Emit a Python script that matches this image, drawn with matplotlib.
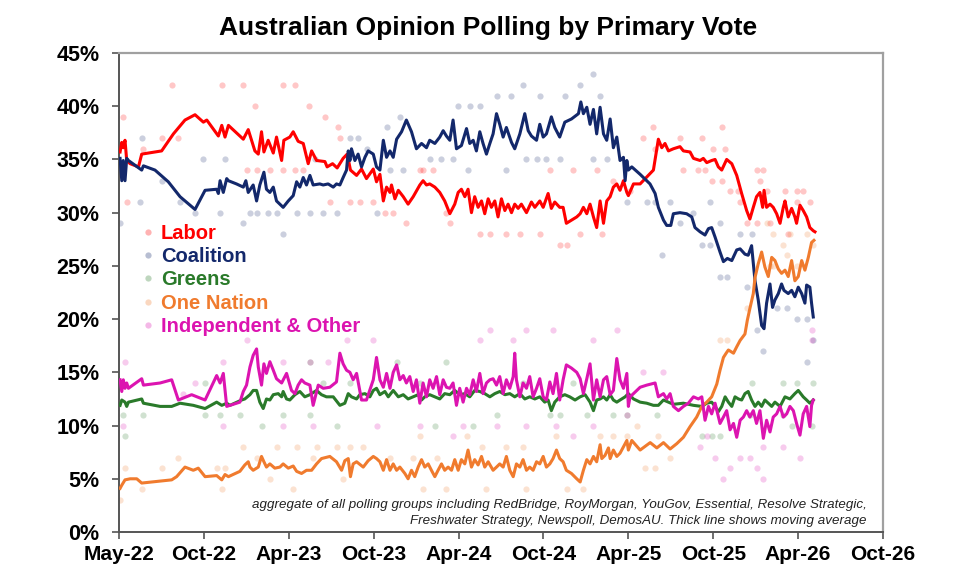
import matplotlib
matplotlib.use('Agg')
import matplotlib.pyplot as plt
from matplotlib.lines import Line2D
from datetime import datetime, timedelta

plt.rcParams['font.family'] = ['Liberation Sans', 'DejaVu Sans']

# ---------------- data (x = decimal year, y = primary vote %) ----------------
series_names = ['Labor', 'Coalition', 'Greens', 'One Nation', 'Independent & Other']
line_colors = ['#FF0000', '#13286B', '#2A7A2A', '#F07B2E', '#DC14B0']

tick_dates = ['2022-05-01', '2022-10-30', '2023-04-30', '2023-10-29', '2024-04-28',
              '2024-10-27', '2025-04-27', '2025-10-26', '2026-04-26', '2026-10-25']
tick_labels = ['May-22', 'Oct-22', 'Apr-23', 'Oct-23', 'Apr-24',
               'Oct-24', 'Apr-25', 'Oct-25', 'Apr-26', 'Oct-26']
y_ticks = [0, 5, 10, 15, 20, 25, 30, 35, 40, 45]
y_labels = ['0%', '5%', '10%', '15%', '20%', '25%', '30%', '35%', '40%', '45%']

labor_avg = [
    (2022.335, 35.7), (2022.345, 36.6), (2022.354, 36.1), (2022.364, 36.8), (2022.374, 34.9),
    (2022.394, 34.6), (2022.443, 34.3), (2022.462, 35.5), (2022.579, 35.8), (2022.648, 37.4),
    (2022.716, 38.7), (2022.775, 39.2), (2022.824, 38.5), (2022.844, 38.7), (2022.912, 37.2),
    (2022.932, 38.2), (2022.951, 37.1), (2022.971, 38.2), (2023.059, 36.9), (2023.088, 37.8),
    (2023.127, 35.8), (2023.147, 35.5), (2023.166, 37.6), (2023.180, 35.7), (2023.205, 36.8),
    (2023.235, 35.6), (2023.254, 37.1), (2023.284, 34.9), (2023.297, 36.8), (2023.332, 37.1),
    (2023.352, 37.6), (2023.381, 36.7), (2023.411, 36.5), (2023.440, 34.6), (2023.460, 35.8),
    (2023.489, 34.9), (2023.538, 34.8), (2023.551, 34.3), (2023.583, 34.6), (2023.610, 34.2),
    (2023.645, 35.1), (2023.669, 35.5), (2023.688, 34.0), (2023.724, 33.5), (2023.753, 34.1),
    (2023.782, 33.2), (2023.822, 34.1), (2023.841, 32.9), (2023.861, 33.6), (2023.881, 31.1),
    (2023.900, 32.4), (2023.920, 31.9), (2023.929, 32.6), (2023.949, 31.3), (2023.969, 32.1),
    (2023.998, 31.5), (2024.027, 30.8), (2024.057, 31.5), (2024.096, 32.6), (2024.115, 33.0),
    (2024.135, 32.6), (2024.154, 32.7), (2024.184, 32.4), (2024.213, 31.9), (2024.242, 31.1),
    (2024.272, 29.9), (2024.301, 30.8), (2024.321, 31.9), (2024.340, 32.2), (2024.360, 31.5),
    (2024.379, 32.2), (2024.399, 30.0), (2024.418, 31.5), (2024.438, 30.5), (2024.458, 31.1),
    (2024.477, 29.9), (2024.497, 31.3), (2024.516, 30.5), (2024.536, 31.1), (2024.555, 29.6),
    (2024.575, 31.3), (2024.595, 30.2), (2024.614, 30.8), (2024.634, 30.0), (2024.653, 30.8),
    (2024.673, 30.4), (2024.692, 30.8), (2024.722, 30.0), (2024.751, 31.0), (2024.771, 30.5),
    (2024.800, 31.1), (2024.820, 30.5), (2024.849, 31.8), (2024.868, 30.4), (2024.888, 31.0),
    (2024.917, 30.5), (2024.937, 30.5), (2024.956, 29.0), (2024.986, 29.3), (2025.015, 29.6),
    (2025.035, 29.9), (2025.054, 30.5), (2025.074, 29.9), (2025.093, 30.8), (2025.113, 29.6),
    (2025.132, 28.6), (2025.152, 31.1), (2025.172, 29.0), (2025.191, 31.1), (2025.211, 31.5),
    (2025.230, 32.4), (2025.250, 32.7), (2025.269, 32.1), (2025.289, 33.0), (2025.309, 31.9),
    (2025.318, 31.6), (2025.348, 32.7), (2025.387, 32.7), (2025.465, 34.0), (2025.494, 36.9),
    (2025.514, 36.1), (2025.533, 36.5), (2025.553, 35.8), (2025.582, 36.0), (2025.621, 36.2),
    (2025.641, 35.8), (2025.680, 35.7), (2025.700, 35.1), (2025.739, 34.9), (2025.758, 35.1),
    (2025.778, 34.7), (2025.807, 34.9), (2025.827, 35.0), (2025.846, 34.3), (2025.866, 34.0),
    (2025.895, 35.0), (2025.925, 34.6), (2025.954, 33.5), (2025.983, 31.8), (2026.013, 30.2),
    (2026.032, 29.4), (2026.052, 30.5), (2026.071, 31.5), (2026.091, 31.9), (2026.107, 30.5),
    (2026.115, 32.1), (2026.130, 30.5), (2026.150, 30.8), (2026.169, 30.5), (2026.189, 29.9),
    (2026.209, 29.0), (2026.228, 30.5), (2026.238, 31.1), (2026.257, 29.6), (2026.277, 30.4),
    (2026.296, 29.6), (2026.306, 29.0), (2026.326, 30.7), (2026.345, 30.2), (2026.365, 29.6),
    (2026.384, 28.6), (2026.404, 28.3), (2026.414, 28.2),
]

coalition_avg = [
    (2022.335, 35.1), (2022.345, 33.0), (2022.354, 34.9), (2022.364, 33.0), (2022.374, 35.1),
    (2022.384, 34.9), (2022.462, 34.0), (2022.472, 34.4), (2022.540, 34.0), (2022.618, 32.9),
    (2022.687, 31.5), (2022.775, 30.3), (2022.834, 32.1), (2022.902, 32.2), (2022.912, 31.8),
    (2022.922, 33.0), (2022.941, 31.9), (2022.961, 33.2), (2022.971, 33.0), (2023.019, 32.7),
    (2023.059, 32.4), (2023.074, 33.0), (2023.088, 31.9), (2023.117, 32.6), (2023.137, 31.1),
    (2023.156, 32.6), (2023.180, 33.8), (2023.195, 32.2), (2023.215, 31.9), (2023.235, 32.4),
    (2023.254, 31.1), (2023.293, 30.5), (2023.323, 31.1), (2023.352, 31.6), (2023.372, 32.9),
    (2023.391, 32.4), (2023.411, 33.3), (2023.430, 32.6), (2023.450, 33.5), (2023.469, 32.6),
    (2023.508, 32.7), (2023.528, 32.6), (2023.557, 32.7), (2023.587, 32.4), (2023.606, 32.7),
    (2023.626, 32.6), (2023.645, 33.3), (2023.665, 34.0), (2023.675, 35.8), (2023.685, 34.9),
    (2023.694, 36.0), (2023.714, 34.9), (2023.733, 35.5), (2023.753, 34.3), (2023.773, 35.2),
    (2023.792, 35.8), (2023.822, 35.5), (2023.841, 34.3), (2023.861, 34.0), (2023.881, 36.8),
    (2023.900, 35.2), (2023.920, 35.8), (2023.939, 35.2), (2023.959, 36.9), (2023.988, 37.6),
    (2024.017, 38.7), (2024.047, 37.6), (2024.076, 36.0), (2024.106, 36.5), (2024.135, 36.1),
    (2024.154, 36.8), (2024.184, 36.5), (2024.213, 37.1), (2024.233, 37.7), (2024.252, 37.2),
    (2024.272, 36.8), (2024.291, 38.7), (2024.311, 36.0), (2024.340, 36.3), (2024.370, 37.9),
    (2024.389, 36.5), (2024.409, 36.8), (2024.428, 35.8), (2024.448, 37.6), (2024.467, 36.5),
    (2024.487, 35.5), (2024.507, 36.5), (2024.526, 37.4), (2024.546, 39.3), (2024.565, 38.3),
    (2024.585, 37.1), (2024.604, 38.0), (2024.634, 36.6), (2024.653, 36.0), (2024.683, 37.4),
    (2024.712, 39.3), (2024.732, 37.7), (2024.751, 37.2), (2024.781, 36.8), (2024.800, 38.3),
    (2024.820, 37.1), (2024.839, 37.4), (2024.868, 39.0), (2024.888, 38.0), (2024.917, 37.1),
    (2024.947, 38.5), (2024.986, 38.8), (2025.025, 39.3), (2025.039, 40.4), (2025.054, 39.3),
    (2025.074, 39.9), (2025.093, 38.3), (2025.113, 39.7), (2025.132, 37.4), (2025.152, 39.9),
    (2025.172, 37.4), (2025.191, 36.8), (2025.211, 38.8), (2025.230, 36.1), (2025.250, 37.1),
    (2025.269, 34.9), (2025.289, 35.2), (2025.299, 33.0), (2025.309, 34.9), (2025.318, 34.0),
    (2025.338, 34.3), (2025.387, 33.6), (2025.445, 32.7), (2025.475, 31.8), (2025.494, 30.5),
    (2025.524, 29.3), (2025.543, 28.8), (2025.567, 28.8), (2025.582, 29.9), (2025.621, 30.0),
    (2025.660, 29.9), (2025.690, 29.6), (2025.709, 28.6), (2025.739, 28.2), (2025.768, 27.9),
    (2025.788, 28.5), (2025.807, 28.6), (2025.827, 27.7), (2025.856, 26.3), (2025.876, 25.4),
    (2025.899, 25.7), (2025.925, 25.5), (2025.954, 26.5), (2025.974, 26.6), (2026.003, 26.1),
    (2026.022, 26.0), (2026.042, 26.9), (2026.062, 23.6), (2026.081, 21.8), (2026.101, 19.4),
    (2026.115, 19.1), (2026.130, 21.5), (2026.150, 23.3), (2026.165, 21.1), (2026.179, 21.8),
    (2026.199, 22.4), (2026.218, 23.3), (2026.232, 22.7), (2026.257, 22.4), (2026.277, 22.7),
    (2026.296, 22.1), (2026.316, 23.0), (2026.336, 22.4), (2026.355, 21.5), (2026.365, 23.2),
    (2026.384, 23.0), (2026.394, 21.5), (2026.404, 20.2),
]

greens_avg = [
    (2022.335, 11.9), (2022.345, 12.4), (2022.364, 12.2), (2022.374, 11.8), (2022.384, 12.2),
    (2022.462, 12.5), (2022.472, 12.1), (2022.570, 11.8), (2022.638, 11.8), (2022.687, 12.1),
    (2022.765, 11.9), (2022.834, 11.6), (2022.902, 12.2), (2022.932, 11.9), (2022.961, 12.1),
    (2022.980, 11.9), (2023.049, 12.4), (2023.068, 12.5), (2023.098, 12.9), (2023.117, 13.3),
    (2023.137, 13.3), (2023.156, 12.2), (2023.176, 11.6), (2023.195, 12.5), (2023.215, 12.4),
    (2023.235, 12.9), (2023.264, 13.0), (2023.284, 12.7), (2023.293, 13.2), (2023.313, 12.5),
    (2023.332, 12.4), (2023.362, 12.9), (2023.391, 13.2), (2023.420, 12.7), (2023.450, 12.9),
    (2023.489, 13.3), (2023.518, 12.9), (2023.547, 12.7), (2023.587, 12.7), (2023.626, 11.9),
    (2023.655, 12.1), (2023.675, 13.0), (2023.694, 12.7), (2023.724, 12.5), (2023.743, 12.9),
    (2023.773, 13.0), (2023.802, 12.7), (2023.822, 13.3), (2023.841, 13.5), (2023.861, 12.9),
    (2023.890, 13.2), (2023.910, 12.7), (2023.939, 13.3), (2023.969, 12.7), (2023.998, 12.9),
    (2024.027, 12.5), (2024.057, 12.7), (2024.086, 12.9), (2024.106, 12.4), (2024.125, 12.7),
    (2024.154, 12.9), (2024.184, 12.7), (2024.213, 12.5), (2024.242, 13.0), (2024.272, 12.9),
    (2024.301, 13.3), (2024.330, 12.9), (2024.360, 13.0), (2024.389, 12.7), (2024.418, 13.3),
    (2024.448, 13.2), (2024.477, 13.0), (2024.507, 12.7), (2024.536, 13.0), (2024.565, 13.2),
    (2024.595, 12.9), (2024.624, 13.0), (2024.653, 12.7), (2024.683, 13.0), (2024.712, 12.5),
    (2024.741, 12.7), (2024.771, 12.5), (2024.800, 12.7), (2024.829, 12.2), (2024.849, 12.4),
    (2024.868, 11.4), (2024.888, 12.2), (2024.917, 12.7), (2024.947, 12.9), (2024.976, 12.7),
    (2025.005, 12.4), (2025.035, 12.7), (2025.064, 12.9), (2025.093, 12.2), (2025.113, 11.4),
    (2025.132, 12.4), (2025.152, 12.5), (2025.172, 12.7), (2025.191, 12.4), (2025.211, 12.9),
    (2025.230, 12.4), (2025.250, 12.2), (2025.269, 12.4), (2025.299, 12.7), (2025.318, 13.0),
    (2025.348, 12.5), (2025.387, 12.2), (2025.426, 12.1), (2025.465, 11.9), (2025.494, 11.9),
    (2025.524, 12.4), (2025.582, 12.0), (2025.641, 12.1), (2025.700, 11.9), (2025.749, 11.8),
    (2025.778, 12.1), (2025.807, 12.2), (2025.827, 11.8), (2025.846, 11.3), (2025.866, 11.8),
    (2025.886, 12.7), (2025.905, 12.2), (2025.925, 11.8), (2025.944, 12.7), (2025.964, 12.5),
    (2025.983, 12.4), (2026.003, 13.0), (2026.022, 13.2), (2026.042, 12.4), (2026.062, 11.8),
    (2026.081, 12.2), (2026.101, 11.8), (2026.120, 12.4), (2026.140, 12.1), (2026.160, 11.8),
    (2026.179, 12.2), (2026.209, 11.8), (2026.238, 12.7), (2026.267, 12.5), (2026.296, 13.0),
    (2026.316, 13.3), (2026.345, 12.7), (2026.365, 12.4), (2026.384, 12.1), (2026.404, 12.4),
]

one_nation_avg = [
    (2022.335, 4.1), (2022.345, 4.4), (2022.364, 4.9), (2022.394, 5.0), (2022.433, 5.0),
    (2022.462, 4.6), (2022.638, 4.9), (2022.667, 5.2), (2022.716, 6.1), (2022.765, 5.8),
    (2022.794, 6.0), (2022.834, 5.2), (2022.902, 5.3), (2022.932, 4.9), (2022.951, 5.4),
    (2022.971, 5.2), (2023.039, 5.7), (2023.068, 6.3), (2023.088, 6.6), (2023.098, 6.1),
    (2023.117, 5.8), (2023.147, 6.1), (2023.166, 7.1), (2023.180, 6.6), (2023.195, 6.1),
    (2023.215, 6.4), (2023.244, 6.0), (2023.274, 6.1), (2023.293, 6.4), (2023.323, 6.0),
    (2023.352, 6.2), (2023.372, 5.7), (2023.401, 5.5), (2023.430, 5.8), (2023.460, 5.8),
    (2023.489, 6.4), (2023.518, 6.9), (2023.567, 7.1), (2023.606, 6.6), (2023.636, 5.8),
    (2023.655, 6.7), (2023.675, 6.9), (2023.688, 5.2), (2023.704, 6.4), (2023.724, 6.6),
    (2023.763, 6.1), (2023.792, 6.7), (2023.822, 7.1), (2023.841, 6.9), (2023.861, 6.6),
    (2023.881, 5.8), (2023.900, 6.8), (2023.920, 5.8), (2023.939, 6.4), (2023.959, 5.8),
    (2023.978, 6.1), (2024.008, 5.5), (2024.027, 5.0), (2024.047, 5.8), (2024.066, 5.2),
    (2024.086, 6.1), (2024.106, 6.8), (2024.125, 6.1), (2024.145, 6.4), (2024.164, 5.8),
    (2024.184, 5.2), (2024.203, 5.8), (2024.223, 6.4), (2024.242, 5.8), (2024.262, 6.1),
    (2024.282, 5.8), (2024.301, 6.8), (2024.321, 5.8), (2024.340, 6.8), (2024.360, 6.4),
    (2024.379, 7.7), (2024.399, 6.1), (2024.418, 6.8), (2024.438, 6.3), (2024.458, 7.1),
    (2024.477, 6.1), (2024.497, 6.6), (2024.526, 5.8), (2024.546, 6.1), (2024.565, 6.4),
    (2024.585, 6.1), (2024.604, 7.1), (2024.624, 5.8), (2024.644, 5.2), (2024.663, 6.4),
    (2024.683, 6.1), (2024.702, 6.8), (2024.722, 5.8), (2024.741, 6.1), (2024.761, 5.8),
    (2024.781, 6.6), (2024.800, 6.4), (2024.820, 7.1), (2024.839, 6.1), (2024.859, 6.4),
    (2024.878, 6.9), (2024.898, 7.7), (2024.917, 6.9), (2024.937, 6.6), (2024.956, 5.8),
    (2024.986, 5.5), (2025.015, 5.0), (2025.035, 4.7), (2025.054, 5.8), (2025.074, 6.8),
    (2025.093, 6.4), (2025.113, 7.1), (2025.132, 6.6), (2025.152, 8.2), (2025.162, 6.9),
    (2025.181, 7.2), (2025.201, 7.9), (2025.211, 6.9), (2025.230, 7.7), (2025.250, 7.1),
    (2025.269, 7.4), (2025.289, 8.0), (2025.309, 8.6), (2025.318, 7.7), (2025.338, 8.6),
    (2025.387, 7.7), (2025.446, 8.4), (2025.485, 7.9), (2025.524, 8.4), (2025.563, 7.8),
    (2025.602, 8.3), (2025.641, 8.9), (2025.680, 9.9), (2025.719, 10.8), (2025.749, 11.8),
    (2025.778, 12.2), (2025.807, 12.7), (2025.837, 13.9), (2025.856, 15.2), (2025.876, 16.4),
    (2025.892, 16.8), (2025.905, 17.1), (2025.935, 16.8), (2025.954, 17.4), (2025.974, 18.0),
    (2026.003, 18.6), (2026.017, 19.9), (2026.032, 21.0), (2026.052, 22.4), (2026.062, 23.9),
    (2026.081, 25.2), (2026.101, 26.3), (2026.120, 24.9), (2026.140, 24.0), (2026.160, 25.8),
    (2026.179, 25.5), (2026.199, 24.7), (2026.218, 24.3), (2026.238, 24.6), (2026.257, 24.0),
    (2026.277, 25.5), (2026.296, 23.6), (2026.316, 24.0), (2026.336, 25.5), (2026.355, 24.6),
    (2026.375, 25.8), (2026.394, 27.2), (2026.408, 27.4),
]

independent_avg = [
    (2022.335, 14.3), (2022.345, 13.2), (2022.354, 14.3), (2022.364, 13.5), (2022.374, 14.0),
    (2022.384, 13.5), (2022.462, 14.4), (2022.472, 13.8), (2022.570, 14.0), (2022.638, 14.3),
    (2022.677, 12.4), (2022.755, 12.9), (2022.834, 12.4), (2022.902, 14.7), (2022.922, 14.0),
    (2022.941, 14.9), (2022.961, 11.8), (2023.039, 12.2), (2023.059, 13.2), (2023.078, 13.8),
    (2023.098, 15.5), (2023.117, 16.6), (2023.137, 17.2), (2023.147, 15.5), (2023.166, 13.8),
    (2023.180, 15.8), (2023.195, 14.9), (2023.215, 16.0), (2023.235, 15.2), (2023.254, 14.4),
    (2023.284, 14.0), (2023.313, 14.9), (2023.342, 13.3), (2023.362, 13.0), (2023.381, 13.8),
    (2023.401, 14.3), (2023.420, 14.0), (2023.450, 13.8), (2023.469, 11.9), (2023.499, 13.8),
    (2023.528, 13.5), (2023.567, 13.6), (2023.606, 14.1), (2023.626, 16.8), (2023.645, 15.8),
    (2023.665, 15.2), (2023.685, 15.0), (2023.704, 14.3), (2023.724, 14.9), (2023.753, 12.4),
    (2023.782, 12.4), (2023.822, 14.3), (2023.841, 16.4), (2023.861, 14.3), (2023.881, 13.6),
    (2023.900, 14.9), (2023.920, 13.5), (2023.939, 15.0), (2023.959, 15.7), (2023.978, 14.3),
    (2023.998, 14.7), (2024.017, 14.0), (2024.037, 14.6), (2024.057, 13.2), (2024.076, 14.3),
    (2024.096, 12.1), (2024.115, 14.0), (2024.135, 12.7), (2024.154, 14.3), (2024.174, 13.5),
    (2024.194, 14.6), (2024.213, 12.9), (2024.233, 14.3), (2024.252, 13.6), (2024.272, 13.5),
    (2024.291, 14.0), (2024.311, 11.9), (2024.330, 13.5), (2024.350, 12.2), (2024.370, 13.5),
    (2024.389, 12.9), (2024.409, 14.3), (2024.428, 13.2), (2024.448, 14.9), (2024.467, 13.0),
    (2024.487, 14.0), (2024.507, 14.3), (2024.526, 14.4), (2024.546, 13.8), (2024.565, 14.6),
    (2024.585, 13.0), (2024.604, 14.3), (2024.624, 13.5), (2024.644, 14.6), (2024.653, 16.8),
    (2024.663, 14.3), (2024.683, 12.7), (2024.702, 14.0), (2024.722, 13.5), (2024.741, 14.6),
    (2024.761, 12.7), (2024.781, 13.5), (2024.800, 14.4), (2024.820, 12.7), (2024.839, 12.4),
    (2024.859, 14.1), (2024.878, 13.0), (2024.898, 14.9), (2024.917, 12.4), (2024.937, 14.3),
    (2024.956, 15.7), (2024.986, 15.4), (2025.015, 15.0), (2025.035, 14.4), (2025.054, 13.0),
    (2025.074, 14.4), (2025.093, 15.8), (2025.113, 12.4), (2025.132, 14.3), (2025.152, 12.7),
    (2025.172, 14.3), (2025.191, 14.6), (2025.211, 12.9), (2025.230, 13.3), (2025.250, 16.3),
    (2025.269, 14.3), (2025.289, 13.5), (2025.309, 14.9), (2025.318, 11.8), (2025.328, 12.7),
    (2025.348, 13.0), (2025.387, 13.6), (2025.426, 13.8), (2025.475, 14.0), (2025.494, 12.7),
    (2025.524, 13.0), (2025.543, 12.5), (2025.563, 13.0), (2025.582, 11.8), (2025.612, 11.4),
    (2025.641, 11.8), (2025.670, 12.1), (2025.700, 12.7), (2025.729, 12.5), (2025.749, 12.7),
    (2025.768, 10.5), (2025.788, 11.8), (2025.807, 11.1), (2025.827, 12.1), (2025.856, 10.2),
    (2025.876, 10.8), (2025.895, 11.4), (2025.915, 9.6), (2025.935, 10.2), (2025.954, 8.9),
    (2025.974, 10.5), (2025.993, 10.8), (2026.013, 11.4), (2026.032, 10.8), (2026.052, 11.4),
    (2026.071, 10.2), (2026.091, 11.4), (2026.111, 8.8), (2026.130, 10.5), (2026.150, 9.4),
    (2026.169, 10.8), (2026.189, 11.1), (2026.209, 11.8), (2026.228, 10.8), (2026.248, 11.1),
    (2026.267, 11.8), (2026.287, 11.4), (2026.306, 10.2), (2026.326, 9.1), (2026.345, 11.1),
    (2026.365, 11.8), (2026.384, 9.9), (2026.394, 11.9), (2026.404, 12.4),
]

# individual polls (faint dots)
labor_polls = [
    (2022.354, 39), (2022.638, 42), (2022.932, 42), (2023.059, 42), (2023.290, 42), (2023.364, 42),
    (2023.127, 40), (2023.446, 40), (2023.538, 39), (2022.677, 37), (2022.580, 37), (2022.472, 36),
    (2023.616, 38), (2023.626, 37), (2022.374, 31), (2023.078, 34), (2023.137, 34), (2023.215, 34),
    (2023.293, 34), (2023.362, 34), (2023.411, 34), (2023.567, 31), (2023.685, 31), (2023.743, 31),
    (2023.822, 31), (2023.880, 32), (2023.890, 30), (2023.939, 30), (2024.017, 29), (2024.096, 34),
    (2024.115, 34), (2024.174, 34), (2024.252, 30), (2024.272, 29), (2024.448, 28), (2024.507, 28),
    (2024.604, 28), (2024.682, 28), (2024.800, 28), (2024.917, 27), (2024.957, 27), (2025.035, 28),
    (2025.162, 28), (2024.859, 34), (2024.995, 34), (2025.133, 34), (2025.230, 33), (2025.328, 32),
    (2025.406, 37), (2025.475, 36), (2025.465, 38), (2025.621, 37), (2025.749, 37), (2025.866, 38),
    (2025.817, 36), (2025.886, 36), (2025.641, 34), (2025.729, 34), (2025.768, 34), (2025.807, 33),
    (2025.866, 33), (2026.071, 34), (2026.110, 34), (2026.091, 33), (2025.915, 32), (2025.964, 32),
    (2026.130, 32), (2026.238, 32), (2026.306, 32), (2026.345, 32), (2026.384, 31), (2026.306, 31),
    (2025.974, 31), (2026.013, 29), (2026.150, 29), (2026.257, 28), (2026.071, 29),
]

coalition_polls = [
    (2022.462, 37), (2022.335, 29), (2022.452, 31), (2022.580, 33), (2022.687, 31), (2022.775, 30),
    (2022.824, 35), (2022.922, 30), (2022.951, 35), (2023.059, 29), (2023.098, 30), (2023.137, 30),
    (2023.205, 30), (2023.255, 30), (2023.290, 28), (2023.372, 30), (2023.450, 30), (2023.528, 30),
    (2023.607, 30), (2023.479, 35), (2023.685, 37), (2023.733, 37), (2023.783, 36), (2023.841, 30),
    (2023.900, 38), (2024.702, 42), (2025.035, 42), (2025.113, 43), (2024.546, 41), (2024.634, 41),
    (2024.800, 41), (2024.947, 41), (2025.152, 41), (2024.389, 40), (2024.320, 40), (2024.448, 40),
    (2023.978, 39), (2024.154, 35), (2024.223, 35), (2024.291, 35), (2024.722, 35), (2024.781, 35),
    (2024.839, 35), (2024.917, 35), (2025.113, 35), (2025.191, 35), (2023.920, 34), (2023.998, 34),
    (2024.379, 34), (2024.604, 34), (2025.309, 31), (2025.426, 31), (2025.475, 31), (2025.563, 31),
    (2025.797, 31), (2025.621, 29), (2025.700, 30), (2025.856, 29), (2025.749, 27), (2025.797, 27),
    (2025.514, 26), (2025.974, 28), (2026.042, 28), (2025.856, 24), (2025.895, 24), (2026.013, 23),
    (2026.248, 21), (2026.365, 20), (2026.071, 19), (2026.110, 17), (2026.365, 16), (2026.306, 20),
    (2026.189, 21), (2026.404, 18),
]

greens_polls = [
    (2022.364, 9), (2022.472, 11), (2022.354, 11), (2022.922, 11), (2022.834, 11), (2022.834, 14),
    (2023.039, 11), (2023.167, 10), (2023.450, 11), (2023.293, 11), (2023.450, 16), (2023.685, 14),
    (2023.528, 14), (2023.607, 10), (2023.959, 16), (2024.252, 16), (2024.546, 11), (2024.859, 11),
    (2024.917, 11), (2025.074, 11), (2025.230, 11), (2025.309, 11), (2024.702, 14), (2024.096, 14),
    (2024.995, 14), (2024.184, 10), (2024.409, 10), (2026.042, 14), (2026.228, 14), (2026.306, 14),
    (2026.404, 14), (2025.485, 11), (2025.749, 9), (2025.807, 9), (2025.856, 9), (2026.032, 11),
    (2026.228, 11), (2026.277, 10), (2026.394, 10),
]

one_nation_polls = [
    (2022.335, 3), (2022.364, 6), (2022.462, 4), (2022.677, 7), (2022.580, 6), (2022.902, 6),
    (2022.951, 6), (2022.932, 4), (2023.059, 8), (2023.137, 7), (2023.255, 8), (2023.372, 8),
    (2023.489, 8), (2023.607, 8), (2023.685, 8), (2023.763, 8), (2023.469, 7), (2023.352, 4),
    (2023.215, 5), (2023.646, 5), (2023.920, 7), (2024.056, 7), (2024.096, 9), (2024.194, 7),
    (2024.370, 9), (2024.458, 8), (2024.604, 8), (2024.702, 8), (2024.898, 9), (2025.152, 9),
    (2025.230, 9), (2025.309, 9), (2025.367, 10), (2024.115, 4), (2024.252, 4), (2024.487, 4),
    (2024.722, 4), (2024.957, 4), (2025.054, 4), (2025.416, 6), (2025.475, 6), (2025.563, 7),
    (2025.494, 9), (2025.856, 18), (2025.895, 18), (2026.013, 21), (2026.150, 25), (2026.248, 26),
    (2026.130, 29), (2026.169, 28), (2026.267, 28), (2026.365, 28), (2026.228, 27), (2026.404, 27),
    (2026.169, 25), (2026.306, 25),
]

independent_polls = [
    (2022.364, 16), (2022.941, 16), (2023.078, 18), (2023.293, 16), (2023.450, 16), (2023.557, 16),
    (2023.665, 18), (2023.822, 18), (2022.706, 13), (2022.775, 14), (2023.469, 10), (2023.841, 10),
    (2023.293, 10), (2022.941, 10), (2022.354, 10), (2024.448, 18), (2024.507, 19), (2024.643, 18),
    (2024.722, 19), (2024.878, 19), (2025.113, 18), (2025.250, 19), (2024.096, 10), (2024.350, 10),
    (2024.546, 10), (2024.722, 10), (2024.898, 10), (2025.113, 10), (2025.309, 11), (2024.291, 9),
    (2024.996, 9), (2025.739, 8), (2025.827, 7), (2025.974, 7), (2026.032, 7), (2026.110, 8),
    (2026.228, 8), (2026.326, 7), (2025.915, 6), (2026.071, 6), (2025.876, 5), (2026.110, 5),
    (2025.778, 9), (2025.524, 15), (2025.406, 15), (2026.394, 19), (2026.394, 18),
]

footnote_lines = [
    'aggregate of all polling groups including RedBridge, RoyMorgan, YouGov, Essential, Resolve Strategic,',
    'Freshwater Strategy, Newspoll, DemosAU. Thick line shows moving average',
]
title_text = 'Australian Opinion Polling by Primary Vote'


def to_date(y):
    yr = int(y)
    return datetime(yr, 1, 1) + timedelta(days=(y - yr) * 365.25)


def split(points):
    return [to_date(p[0]) for p in points], [p[1] for p in points]


averages = [labor_avg, coalition_avg, greens_avg, one_nation_avg, independent_avg]
polls = [labor_polls, coalition_polls, greens_polls, one_nation_polls, independent_polls]

# ---------------- figure ----------------
fig = plt.figure(figsize=(9.61, 5.88), dpi=100)
ax = fig.add_axes([0.1238, 0.0952, 0.7950, 0.8147])

for pts, col in zip(polls, line_colors):
    xs, ys = split(pts)
    ax.scatter(xs, ys, s=20, color=col, alpha=0.22, linewidths=0, zorder=2)

for pts, col in zip(averages, line_colors):
    xs, ys = split(pts)
    ax.plot(xs, ys, color=col, lw=2.2, zorder=3, solid_joinstyle='round')

tick_dt = [datetime.strptime(d, '%Y-%m-%d') for d in tick_dates]
ax.set_xlim(tick_dt[0], tick_dt[-1])
ax.set_xticks(tick_dt)
ax.set_xticklabels(tick_labels, fontsize=15, fontweight='bold')
ax.set_ylim(0, 45)
ax.set_yticks(y_ticks)
ax.set_yticklabels(y_labels, fontsize=15.5, fontweight='bold')
ax.tick_params(axis='x', direction='out', length=5, width=1.2, color='#555555', pad=4)
ax.tick_params(axis='y', direction='out', length=5, width=1.2, color='#555555', pad=9)

for side in ['left', 'bottom']:
    ax.spines[side].set_color('#555555')
    ax.spines[side].set_linewidth(1.4)
for side in ['top', 'right']:
    ax.spines[side].set_color('#A0A0A0')
    ax.spines[side].set_linewidth(1.6)

handles = [Line2D([], [], marker='o', linestyle='', markersize=4.5,
                  markerfacecolor=c, markeredgecolor='none', alpha=0.3) for c in line_colors]
leg = ax.legend(handles, series_names, loc='upper left', bbox_to_anchor=(0.030, 0.643),
                frameon=False, borderpad=0, borderaxespad=0, handlelength=0.6,
                handletextpad=0.35, labelspacing=0.21,
                prop={'size': 14.5, 'weight': 'bold'}, labelcolor=line_colors)

ax.text(0.9785, 0.0564, footnote_lines[0], transform=ax.transAxes,
        ha='right', va='center', fontsize=9.6, style='italic', color='#222222')
ax.text(0.9785, 0.023, footnote_lines[1], transform=ax.transAxes,
        ha='right', va='center', fontsize=9.6, style='italic', color='#222222')

fig.text(0.508, 0.952, title_text, ha='center', va='center', fontsize=19,
         fontweight='bold')

fig.savefig('out.png', dpi=100)
